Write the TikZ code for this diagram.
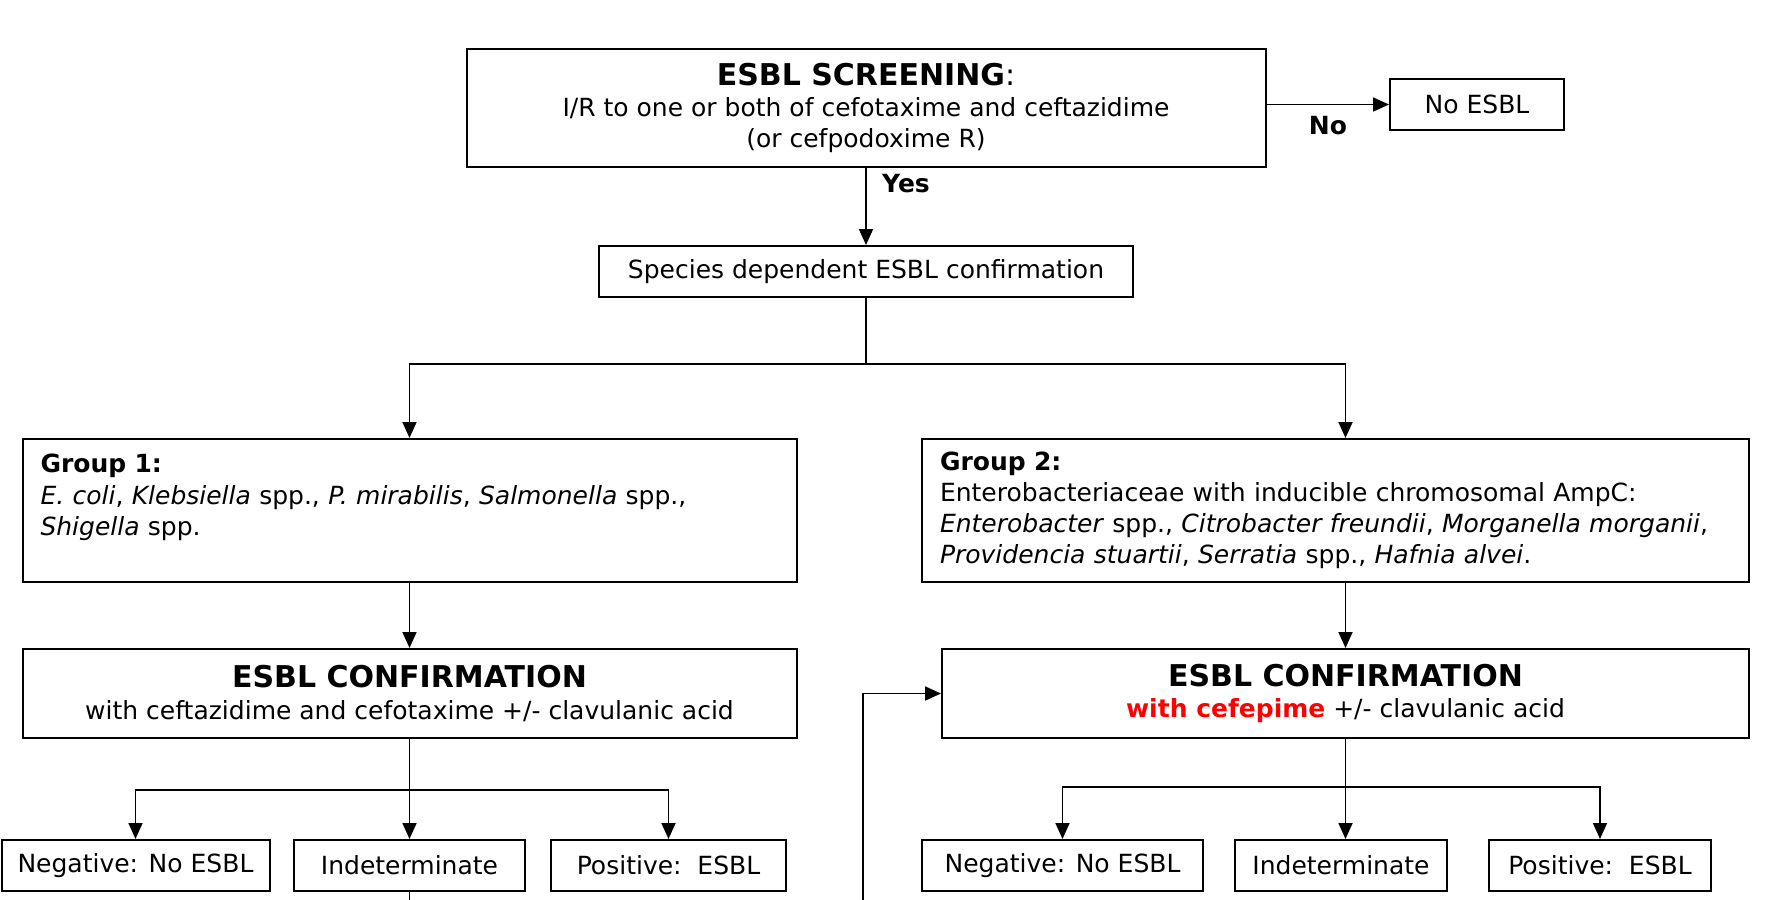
\documentclass[tikz,border=0pt]{standalone}
\usepackage{fontspec}
\setmainfont{DejaVu Sans}
\usepackage{xcolor}
\usetikzlibrary{arrows.meta}
\newcommand{\bigtitle}[1]{{\fontsize{15}{19}\selectfont\bfseries #1}}

\begin{document}
\begin{tikzpicture}[x=0.5pt, y=-0.5pt,
  box/.style={draw, line width=1pt, inner sep=0pt, align=center,
    font=\fontsize{12.5}{15.6}\selectfont},
  grpbox/.style={draw, line width=1pt, inner xsep=9pt, inner ysep=0pt,
    align=left, minimum height=71.5pt, font=\fontsize{12.5}{15.6}\selectfont},
  resbox/.style={box, minimum height=25.5pt},
  arr/.style={-{Triangle[length=8pt,width=7pt]}, line width=0.9pt},
  ln/.style={line width=0.9pt},
  lbl/.style={font=\fontsize{12.5}{15.6}\selectfont\bfseries}]
\useasboundingbox (0,0) rectangle (1769,900);

% Screening
\node[box, minimum width=399.5pt, minimum height=59.25pt] (screen) at (866,108)
  {\bigtitle{ESBL SCREENING}{\fontsize{15}{19}\selectfont:}\\
   I/R to one or both of cefotaxime and ceftazidime\\(or cefpodoxime R)};
\node[box, minimum width=87pt, minimum height=25.5pt] (noesbl) at (1477,104.5) {No ESBL};
\node[box, minimum width=267pt, minimum height=25.5pt] (species) at (866,271.5)
  {Species dependent ESBL confirmation};

% Groups
\node[grpbox, text width=369pt] (group1) at (409.5,510.5)
  {\textbf{Group 1:}\\
   \textit{E. coli}, \textit{Klebsiella} spp., \textit{P. mirabilis}, \textit{Salmonella} spp.,\\
   \textit{Shigella} spp.\\ \mbox{}};
\node[grpbox, text width=395.5pt] (group2) at (1335.5,510.5)
  {\textbf{Group 2:}\\
   Enterobacteriaceae with inducible chromosomal AmpC:\\
   \textit{Enterobacter} spp., \textit{Citrobacter freundii}, \textit{Morganella morganii},\\
   \textit{Providencia stuartii}, \textit{Serratia} spp., \textit{Hafnia alvei}.};

% Confirmation
\node[box, minimum width=387pt, minimum height=44.5pt] (conf1) at (409.5,693.5)
  {\bigtitle{ESBL CONFIRMATION}\\with ceftazidime and cefotaxime +/- clavulanic acid};
\node[box, minimum width=403.5pt, minimum height=44.5pt] (conf2) at (1345.5,693.5)
  {\bigtitle{ESBL CONFIRMATION}\\\textcolor{red}{\textbf{with cefepime}} +/- clavulanic acid};

% Results
\node[resbox, minimum width=134pt] (neg1) at (135.5,865.5) {Negative: No ESBL};
\node[resbox, minimum width=115.5pt] (indet1) at (409.5,865.5) {Indeterminate};
\node[resbox, minimum width=117.5pt] (pos1) at (668.5,865.5) {Positive:\ \ ESBL};
\node[resbox, minimum width=140.5pt] (neg2) at (1062.5,865.5) {Negative: No ESBL};
\node[resbox, minimum width=106pt] (indet2) at (1341,865.5) {Indeterminate};
\node[resbox, minimum width=111pt] (pos2) at (1600,865.5) {Positive:\ \ ESBL};

% Connectors
\draw[arr] (screen.east |- noesbl.west) -- (noesbl.west);
\node[lbl] (nolbl) at (1328,126) {No};
\draw[arr] (screen.south) -- (species.north);
\node[lbl] (yeslbl) at (906,184) {Yes};

\draw[ln] (species.south) -- ++(0,66) coordinate (spsplit);
\draw[arr] (spsplit) -| (group1.north);
\draw[arr] (spsplit) -| (conf2.north |- group2.north);
\draw[arr] (group1.south) -- (conf1.north);
\draw[arr] (conf2.north |- group2.south) -- (conf2.north);

\draw[ln] (conf1.south) -- ++(0,51) coordinate (c1split);
\draw[arr] (c1split) -| (neg1.north);
\draw[arr] (c1split) -- (indet1.north);
\draw[arr] (c1split) -| (pos1.north);

\draw[ln] (conf2.south) -- ++(0,48) coordinate (c2split);
\draw[arr] (c2split) -| (neg2.north);
\draw[arr] (c2split) -- (c2split |- indet2.north);
\draw[arr] (c2split) -| (pos2.north);

% Lines leaving the bottom edge
\coordinate (fbbot) at (863,900);
\draw[ln] (indet1.south) -- (indet1.south |- fbbot);
\draw[arr] (fbbot) |- (conf2.west);
\end{tikzpicture}
\end{document}
